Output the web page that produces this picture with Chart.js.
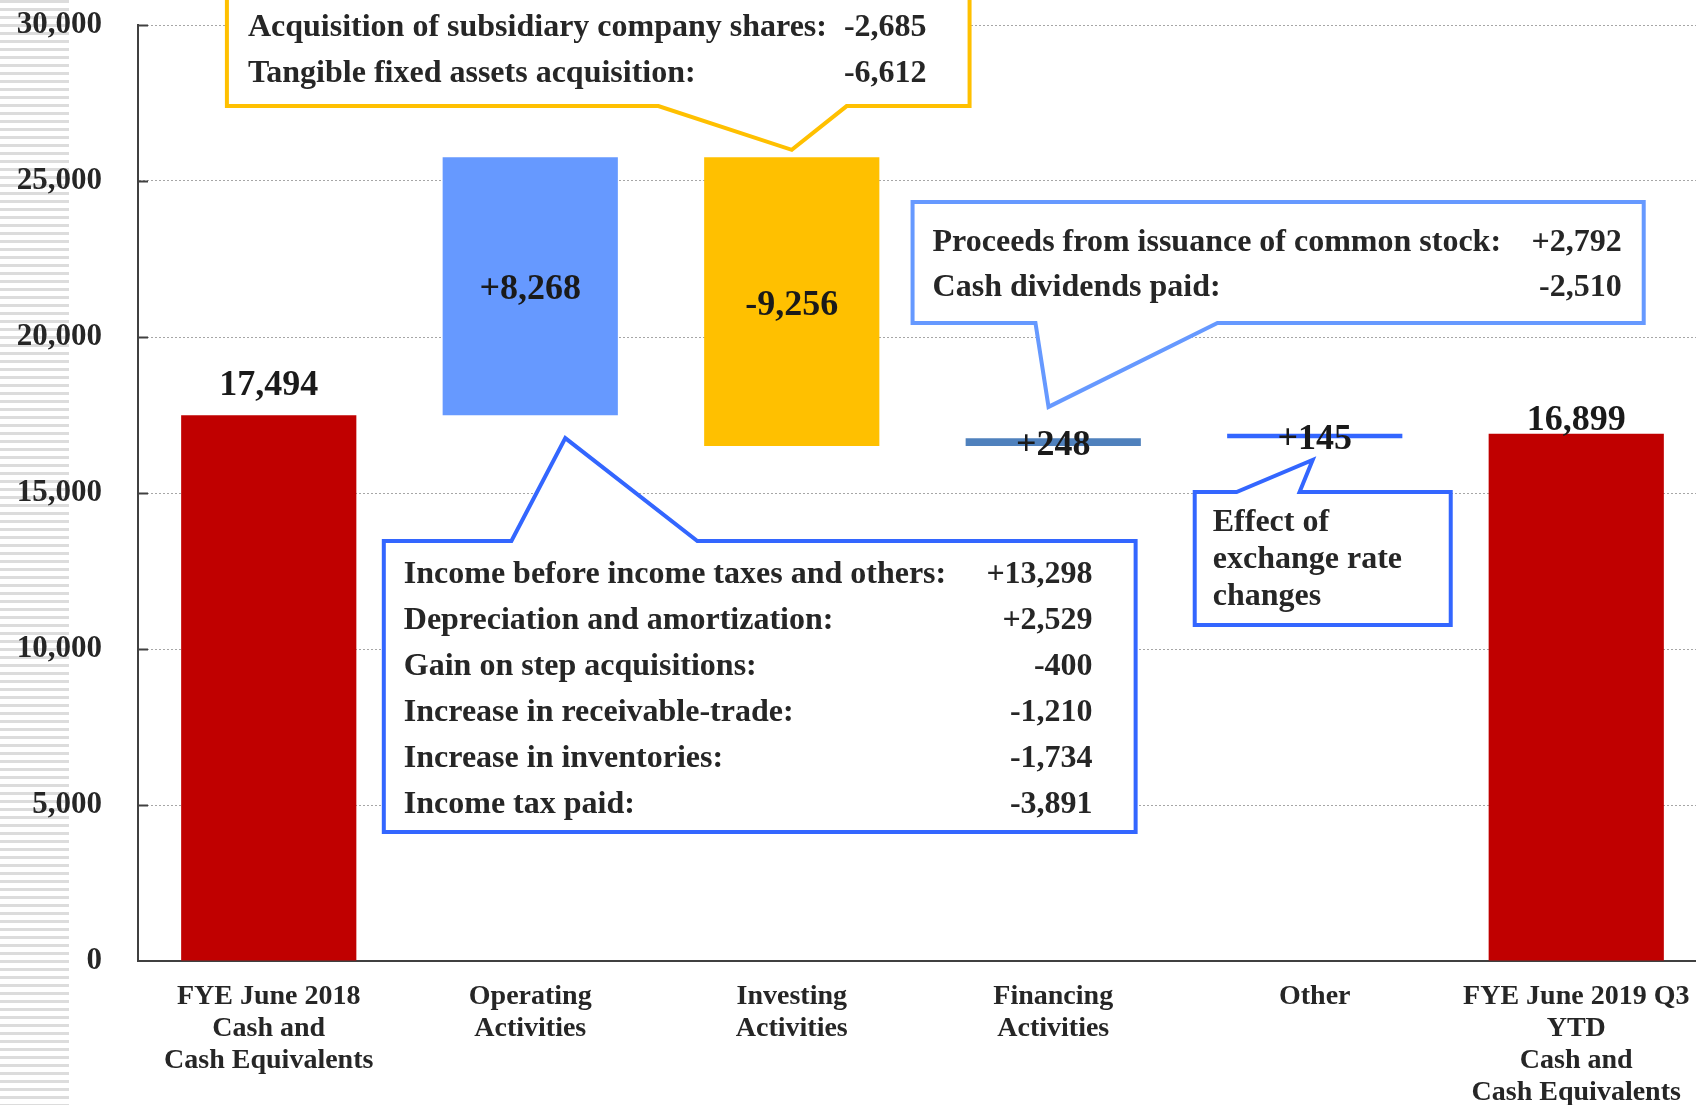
<!DOCTYPE html>
<html>
<head>
<meta charset="utf-8">
<title>Cash flow bridge</title>
<script src="https://cdn.jsdelivr.net/npm/chart.js@4.4.1/dist/chart.umd.min.js"></script>
<style>
  html, body { margin: 0; padding: 0; background: #fff; overflow: hidden; }
  #wrap { position: relative; width: 1696px; height: 1105px; overflow: hidden; }
  #stripes {
    position: absolute; left: 0; top: 0; width: 69px; height: 1105px;
    background: repeating-linear-gradient(to bottom, #dcdcdc 0px, #dcdcdc 3px, #fff 3px, #fff 8px);
  }
  #cashChart { position: absolute; left: 0; top: 0; }
</style>
</head>
<body>
<div id="wrap">
  <div id="stripes"></div>
  <canvas id="cashChart" width="1720" height="1105"></canvas>
</div>
<script>
// ---- data ----
const categoryLabels = [
  ['FYE June 2018', 'Cash and', 'Cash Equivalents'],
  ['Operating', 'Activities'],
  ['Investing', 'Activities'],
  ['Financing', 'Activities'],
  ['Other'],
  ['FYE June 2019 Q3', 'YTD', 'Cash and', 'Cash Equivalents']
];
const openingBalance = 17494;
const flowValues = [8268, -9256, 248, 145];
const closingBalance = 16899;
const valueLabels = ['17,494', '+8,268', '-9,256', '+248', '+145', '16,899'];

const yTicks = [0, 5000, 10000, 15000, 20000, 25000, 30000];

const operatingItems = [
  'Income before income taxes and others:',
  'Depreciation and amortization:',
  'Gain on step acquisitions:',
  'Increase in receivable-trade:',
  'Increase in inventories:',
  'Income tax paid:'
];
const operatingAmounts = ['+13,298', '+2,529', '-400', '-1,210', '-1,734', '-3,891'];

const investingItems = ['Acquisition of subsidiary company shares:', 'Tangible fixed assets acquisition:'];
const investingAmounts = ['-2,685', '-6,612'];

const financingItems = ['Proceeds from issuance of common stock:', 'Cash dividends paid:'];
const financingAmounts = ['+2,792', '-2,510'];

const otherItems = ['Effect of', 'exchange rate', 'changes'];

// floating bars: [start, end]
const floatingBars = [[0, openingBalance]];
let running = openingBalance;
flowValues.forEach(f => {
  floatingBars.push([running, running + f]);
  running += f;
});
floatingBars.push([0, closingBalance]);

// ---- style ----
const serif = "'Liberation Serif', 'Times New Roman', serif";
const barColors = ['#c00000', '#6699ff', '#ffc000', '#4f81bd', '#3366ff', '#c00000'];
const labelPlace = ['above', 'center', 'center', 'center', 'center', 'above'];
const labelGap = [20, 0, 0, 0, 0, 4];

// callouts: box and pointer in (category index, value) units, text spacing in px
const callouts = [
  { color: '#ffc000', x0: -0.16, x1: 2.68, yTop: 31100, yBottom: 27400,
    side: 'bottom', base1: 1.49, tip: { x: 2.0, y: 26000 }, base2: 2.21,
    items: investingItems, amounts: investingAmounts, padLeft: 21, padRight: 43, first: 45, gap: 46 },
  { color: '#3366ff', x0: 0.44, x1: 3.315, yTop: 13460, yBottom: 4135,
    side: 'top', base1: 0.928, tip: { x: 1.134, y: 16760 }, base2: 1.639,
    items: operatingItems, amounts: operatingAmounts, padLeft: 20, padRight: 43, first: 42, gap: 46 },
  { color: '#6699ff', x0: 2.462, x1: 5.258, yTop: 24330, yBottom: 20450,
    side: 'bottom', base1: 2.932, tip: { x: 2.982, y: 17760 }, base2: 3.628,
    items: financingItems, amounts: financingAmounts, padLeft: 20, padRight: 22, first: 49, gap: 45 },
  { color: '#3366ff', x0: 3.541, x1: 4.52, yTop: 15030, yBottom: 10770,
    side: 'top', base1: 3.701, tip: { x: 3.992, y: 16060 }, base2: 3.942,
    items: otherItems, amounts: [], padLeft: 18, padRight: 0, first: 39, gap: 37 }
];

const overlayPlugin = {
  id: 'overlay',
  afterDatasetsDraw(chart) {
    const { ctx, chartArea } = chart;
    const xs = chart.scales.x, ys = chart.scales.y;

    // small inner tick marks on the value axis
    ctx.save();
    ctx.strokeStyle = '#404040';
    ctx.lineWidth = 2;
    yTicks.forEach(v => {
      if (v === 0) return;
      const py = Math.round(ys.getPixelForValue(v)) + 0.5;
      ctx.beginPath();
      ctx.moveTo(chartArea.left, py);
      ctx.lineTo(chartArea.left + 10, py);
      ctx.stroke();
    });
    ctx.restore();

    // callout boxes
    callouts.forEach(c => {
      const L = xs.getPixelForValue(c.x0), R = xs.getPixelForValue(c.x1);
      const T = ys.getPixelForValue(c.yTop), B = ys.getPixelForValue(c.yBottom);
      const b1 = xs.getPixelForValue(c.base1), b2 = xs.getPixelForValue(c.base2);
      const tx = xs.getPixelForValue(c.tip.x), ty = ys.getPixelForValue(c.tip.y);
      ctx.save();
      ctx.beginPath();
      if (c.side === 'top') {
        ctx.moveTo(L, T); ctx.lineTo(b1, T); ctx.lineTo(tx, ty); ctx.lineTo(b2, T);
        ctx.lineTo(R, T); ctx.lineTo(R, B); ctx.lineTo(L, B);
      } else {
        ctx.moveTo(L, T); ctx.lineTo(R, T); ctx.lineTo(R, B); ctx.lineTo(b2, B);
        ctx.lineTo(tx, ty); ctx.lineTo(b1, B); ctx.lineTo(L, B);
      }
      ctx.closePath();
      ctx.fillStyle = '#fff';
      ctx.fill();
      ctx.lineWidth = 4;
      ctx.lineJoin = 'miter';
      ctx.strokeStyle = c.color;
      ctx.stroke();

      ctx.fillStyle = '#262626';
      ctx.font = 'bold 32px ' + serif;
      ctx.textBaseline = 'alphabetic';
      c.items.forEach((t, i) => {
        const by = T + c.first + i * c.gap;
        ctx.textAlign = 'left';
        ctx.fillText(t, L + c.padLeft, by);
        if (c.amounts[i]) {
          ctx.textAlign = 'right';
          ctx.fillText(c.amounts[i], R - c.padRight, by);
        }
      });
      ctx.restore();
    });

    // bar value labels
    const meta = chart.getDatasetMeta(0);
    ctx.save();
    ctx.font = 'bold 36px ' + serif;
    ctx.fillStyle = '#1a1a1a';
    ctx.textAlign = 'center';
    ctx.textBaseline = 'alphabetic';
    meta.data.forEach((bar, i) => {
      const { x, y, base } = bar.getProps(['x', 'y', 'base'], true);
      const top = Math.min(y, base);
      let by;
      if (labelPlace[i] === 'above') {
        by = top - labelGap[i];
      } else {
        by = (y + base) / 2 + 13;
      }
      ctx.fillText(valueLabels[i], x, by);
    });
    ctx.restore();
  }
};

const ctx = document.getElementById('cashChart');
new Chart(ctx, {
  type: 'bar',
  data: {
    labels: categoryLabels,
    datasets: [{
      data: floatingBars,
      backgroundColor: barColors,
      borderWidth: 0,
      borderSkipped: false,
      barPercentage: 0.67,
      categoryPercentage: 1
    }]
  },
  options: {
    responsive: false,
    animation: false,
    layout: { padding: { top: 25, right: 13, left: 0, bottom: 0 } },
    plugins: {
      legend: { display: false },
      tooltip: { enabled: false }
    },
    scales: {
      x: {
        offset: true,
        grid: { display: false },
        border: { display: true, color: '#404040', width: 2 },
        ticks: {
          autoSkip: false,
          maxRotation: 0,
          padding: 12,
          color: '#262626',
          font: { family: serif, size: 28, weight: 'bold', lineHeight: 32 / 28 }
        },
        afterFit: s => { s.height = 144; s.paddingLeft = 0; s.paddingRight = 0; }
      },
      y: {
        min: 0,
        max: 30000,
        afterBuildTicks: s => { s.ticks = yTicks.map(v => ({ value: v })); },
        ticks: {
          padding: 36,
          color: '#262626',
          font: { family: serif, size: 31, weight: 'bold' },
          callback: v => v.toLocaleString('en-US')
        },
        grid: {
          color: c => (c.tick && c.tick.value === 0) ? 'rgba(0,0,0,0)' : '#a6a6a6',
          lineWidth: 1,
          drawTicks: false
        },
        border: { display: true, color: '#404040', width: 2, dash: [2, 2] },
        afterFit: s => { s.width = 138; s.paddingTop = 0; s.paddingBottom = 0; }
      }
    }
  },
  plugins: [overlayPlugin]
});
</script>
</body>
</html>
